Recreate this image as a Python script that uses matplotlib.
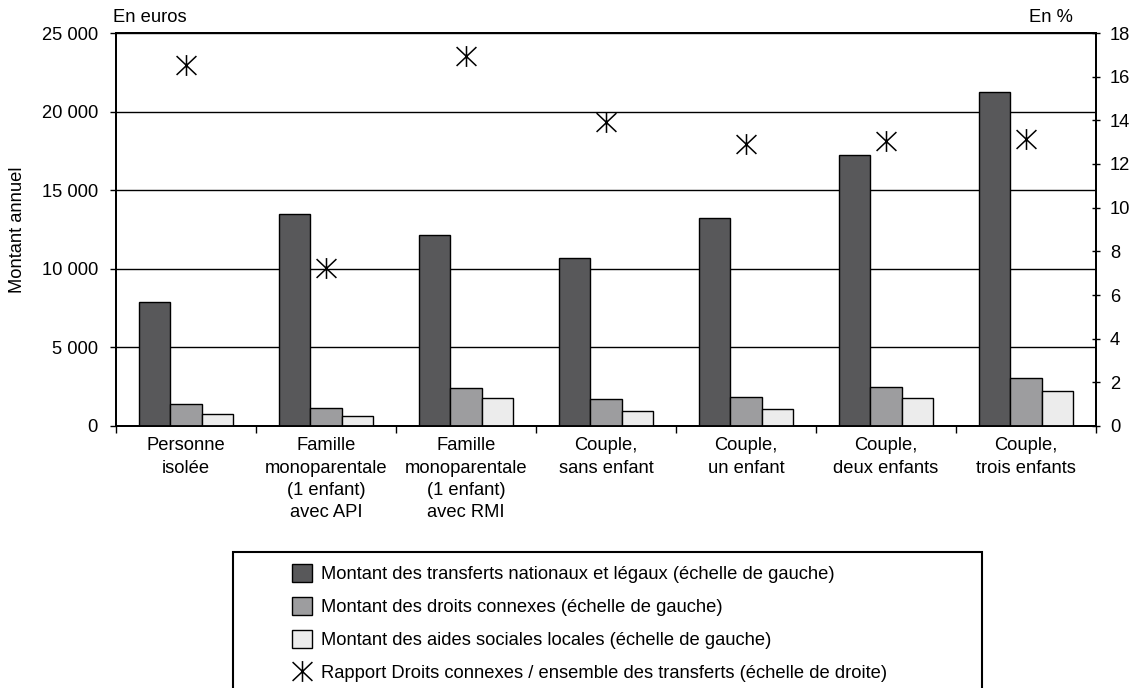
import numpy as np
import matplotlib
matplotlib.use("Agg")
import matplotlib.pyplot as plt
from matplotlib.path import Path
from matplotlib.patches import Rectangle, Patch
from matplotlib.lines import Line2D
from matplotlib.ticker import FuncFormatter

plt.rcParams["font.family"] = ["Liberation Sans", "DejaVu Sans"]
plt.rcParams["font.size"] = 13.2

# Data (euros, left scale / percent, right scale)
categories = [
    "Personne\nisolée",
    "Famille\nmonoparentale\n(1 enfant)\navec API",
    "Famille\nmonoparentale\n(1 enfant)\navec RMI",
    "Couple,\nsans enfant",
    "Couple,\nun enfant",
    "Couple,\ndeux enfants",
    "Couple,\ntrois enfants",
]
transferts_nationaux = [7900, 13500, 12150, 10670, 13210, 17220, 21230]
droits_connexes = [1420, 1120, 2400, 1720, 1820, 2500, 3070]
aides_locales = [740, 660, 1760, 950, 1060, 1760, 2230]
rapport_pct = [16.55, 7.25, 16.95, 13.93, 12.92, 13.04, 13.13]

labels = [
    "Montant des transferts nationaux et légaux (échelle de gauche)",
    "Montant des droits connexes (échelle de gauche)",
    "Montant des aides sociales locales (échelle de gauche)",
    "Rapport Droits connexes / ensemble des transferts (échelle de droite)",
]
colors = ["#58585a", "#9d9d9f", "#ececec"]

# asterisk marker: X plus vertical stroke
star = Path([(-1, -0.95), (1, 0.95), (-1, 0.95), (1, -0.95), (0, -1.05), (0, 1.05)],
            [Path.MOVETO, Path.LINETO, Path.MOVETO, Path.LINETO, Path.MOVETO, Path.LINETO])

W, H = 1145, 688
fig = plt.figure(figsize=(W / 100, H / 100), dpi=100)
ax = fig.add_axes([116 / W, 1 - 426 / H, (1096 - 116) / W, (426 - 33) / H])
ax2 = ax.twinx()

x = np.arange(len(categories))
bw = 0.224
for i, (vals, c) in enumerate(zip([transferts_nationaux, droits_connexes, aides_locales], colors)):
    ax.bar(x + (i - 1) * bw, vals, bw, color=c, edgecolor="black", linewidth=1.0, zorder=3)

ax2.plot(x, rapport_pct, linestyle="none", marker=star, markersize=15,
         markeredgecolor="black", markerfacecolor="none", markeredgewidth=1.1)

ax.set_xlim(-0.5, len(categories) - 0.5)
ax.set_ylim(0, 25000)
ax.set_yticks(np.arange(0, 25001, 5000))
ax.yaxis.set_major_formatter(FuncFormatter(lambda v, p: f"{int(v):,}".replace(",", " ")))
ax.grid(axis="y", color="black", linewidth=1.0, zorder=0)
ax.set_axisbelow(True)
ax2.set_ylim(0, 18)
ax2.set_yticks(np.arange(0, 19, 2))

ax.set_xticks(x)
ax.set_xticklabels(categories, linespacing=1.42)
ax.set_xticks(np.arange(-0.5, len(categories)), minor=True)
ax.tick_params(axis="x", which="major", length=0, pad=8)
ax.tick_params(axis="x", which="minor", length=5, width=1.0, direction="out")
ax.tick_params(axis="y", length=4, width=1.0, direction="out", pad=9)
ax2.tick_params(axis="y", length=6, width=1.0, direction="inout", pad=7)

for a in (ax, ax2):
    for s in a.spines.values():
        s.set_linewidth(1.3)
        s.set_color("black")

ax.set_ylabel("Montant annuel", labelpad=11)
fig.text(113 / W, 1 - 17 / H, "En euros", ha="left", va="center")
fig.text(1073 / W, 1 - 17 / H, "En %", ha="right", va="center")

# legend box extending below the image edge
fig.patches.append(Rectangle((233 / W, -0.05), (982 - 233) / W, 0.05 + (H - 552) / H,
                             transform=fig.transFigure, facecolor="white",
                             edgecolor="black", linewidth=1.5))
handles = [Patch(facecolor=c, edgecolor="black", linewidth=1.0) for c in colors]
handles.append(Line2D([], [], linestyle="none", marker=star, markersize=15,
                      markeredgecolor="black", markerfacecolor="none", markeredgewidth=1.1))
fig.legend(handles, labels, loc="upper left", bbox_to_anchor=(283 / W, 1 - 555 / H),
           frameon=False, borderpad=0, handlelength=1.1, handleheight=1.1,
           handletextpad=0.45, labelspacing=0.76)

fig.savefig("out.png", dpi=100)
